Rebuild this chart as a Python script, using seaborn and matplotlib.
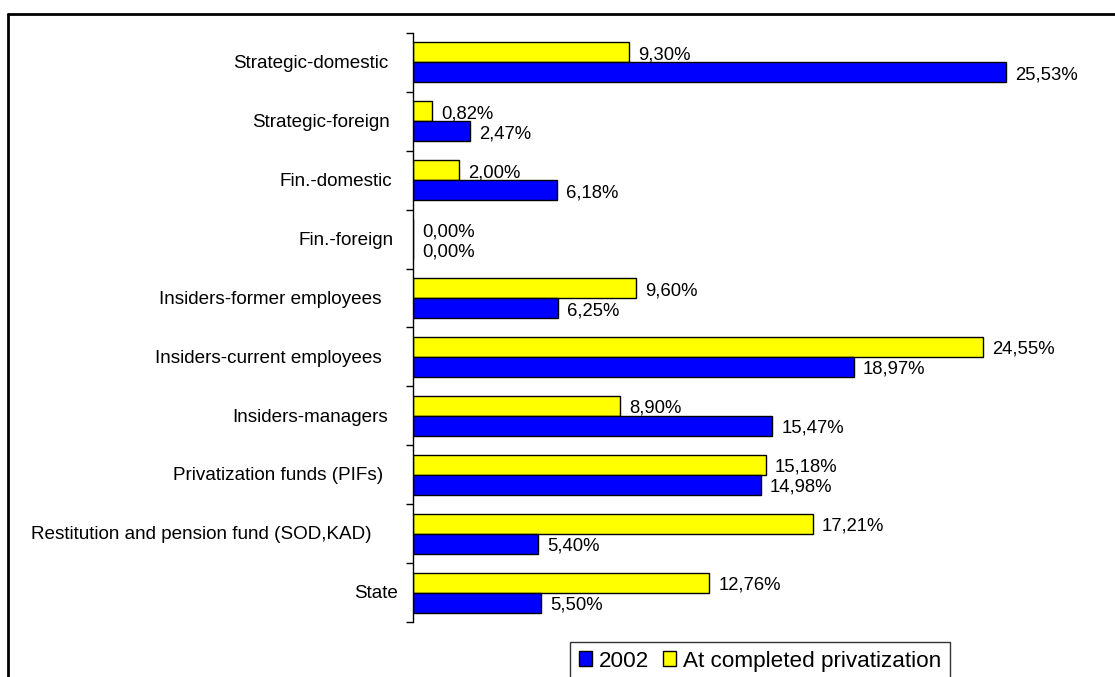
import matplotlib
matplotlib.use("Agg")
import matplotlib.pyplot as plt
from matplotlib.patches import Patch
from matplotlib.lines import Line2D
import numpy as np
import pandas as pd
import seaborn as sns

categories = ["Strategic-domestic", "Strategic-foreign", "Fin.-domestic", "Fin.-foreign",
              "Insiders-former employees", "Insiders-current employees", "Insiders-managers",
              "Privatization funds (PIFs)", "Restitution and pension fund (SOD,KAD)", "State"]
values_2002 = [25.53, 2.47, 6.18, 0.00, 6.25, 18.97, 15.47, 14.98, 5.40, 5.50]
values_completed = [9.30, 0.82, 2.00, 0.00, 9.60, 24.55, 8.90, 15.18, 17.21, 12.76]
series = ["At completed privatization", "2002"]
colors = {"2002": "#0000FF", "At completed privatization": "#FFFF00"}

df = pd.DataFrame({
    "category": categories * 2,
    "value": values_completed + values_2002,
    "series": [series[0]] * len(categories) + [series[1]] * len(categories),
})

sns.set_style("white")
plt.rcParams["font.family"] = ["Liberation Sans", "DejaVu Sans"]
plt.rcParams["text.color"] = "black"
plt.rcParams["axes.labelcolor"] = "black"
plt.rcParams["xtick.color"] = "black"
plt.rcParams["ytick.color"] = "black"

W, H = 1115, 677
fig = plt.figure(figsize=(W / 100, H / 100), dpi=100)
ax = fig.add_axes([413 / W, 1 - 622 / H, (1110 - 413) / W, (622 - 33) / H])

sns.barplot(data=df, y="category", x="value", hue="series", hue_order=series,
            order=categories, palette=colors, orient="h", width=0.68,
            edgecolor="black", linewidth=1, legend=False, ax=ax, saturation=1)

for cont in ax.containers:
    labels = [f"{b.get_width():.2f}%".replace(".", ",") for b in cont]
    anns = ax.bar_label(cont, labels=labels, padding=6.5, fontsize=13.3, color="black")
    for a in anns:
        ox, oy = a.xyann
        a.xyann = (ox, oy - 1.8)

ax.set_xlim(0, 30)
ax.set_ylim(len(categories) - 0.5, -0.5)
ax.set_xlabel("")
ax.set_ylabel("")
ax.set_xticks([])
# boundary ticks on the axis
ax.set_yticks(np.arange(len(categories) + 1) - 0.5)
ax.set_yticklabels([])
ax.tick_params(axis="y", which="major", length=5, width=1, color="black", left=True, direction="out")
for side in ["top", "right", "bottom"]:
    ax.spines[side].set_visible(False)
ax.spines["left"].set_color("black")
ax.spines["left"].set_linewidth(1)

# category names: right aligned near the axis, longer names sit a bit further left
cat_texts = [ax.text(0, i + 0.02, name, ha="right", va="center", fontsize=13.6,
                     transform=ax.get_yaxis_transform()) for i, name in enumerate(categories)]
fig.canvas.draw()
renderer = fig.canvas.get_renderer()
for t in cat_texts:
    w = t.get_window_extent(renderer).width
    x_px = 402 - 0.09 * w
    t.set_x((x_px - 413) / (1110 - 413))

handles = [Patch(facecolor=colors["2002"], edgecolor="black", label="2002"),
           Patch(facecolor=colors["At completed privatization"], edgecolor="black",
                 label="At completed privatization")]
leg = fig.legend(handles=handles, loc="upper left", bbox_to_anchor=(570 / W, 1 - 642 / H),
                 ncol=2, frameon=True, fancybox=False, borderaxespad=0, handlelength=0.6,
                 handleheight=0.6, handletextpad=0.3, columnspacing=0.6, fontsize=16.2,
                 borderpad=0.38)
leg.get_frame().set_edgecolor("black")
leg.get_frame().set_linewidth(1)

# outer frame of the chart area
fig.add_artist(Line2D([8 / W, 1.01], [1 - 14 / H, 1 - 14 / H], color="black", lw=2,
                      transform=fig.transFigure))
fig.add_artist(Line2D([8 / W, 8 / W], [1 - 14 / H, -0.01], color="black", lw=2,
                      transform=fig.transFigure))

fig.savefig("out.png", dpi=100)
